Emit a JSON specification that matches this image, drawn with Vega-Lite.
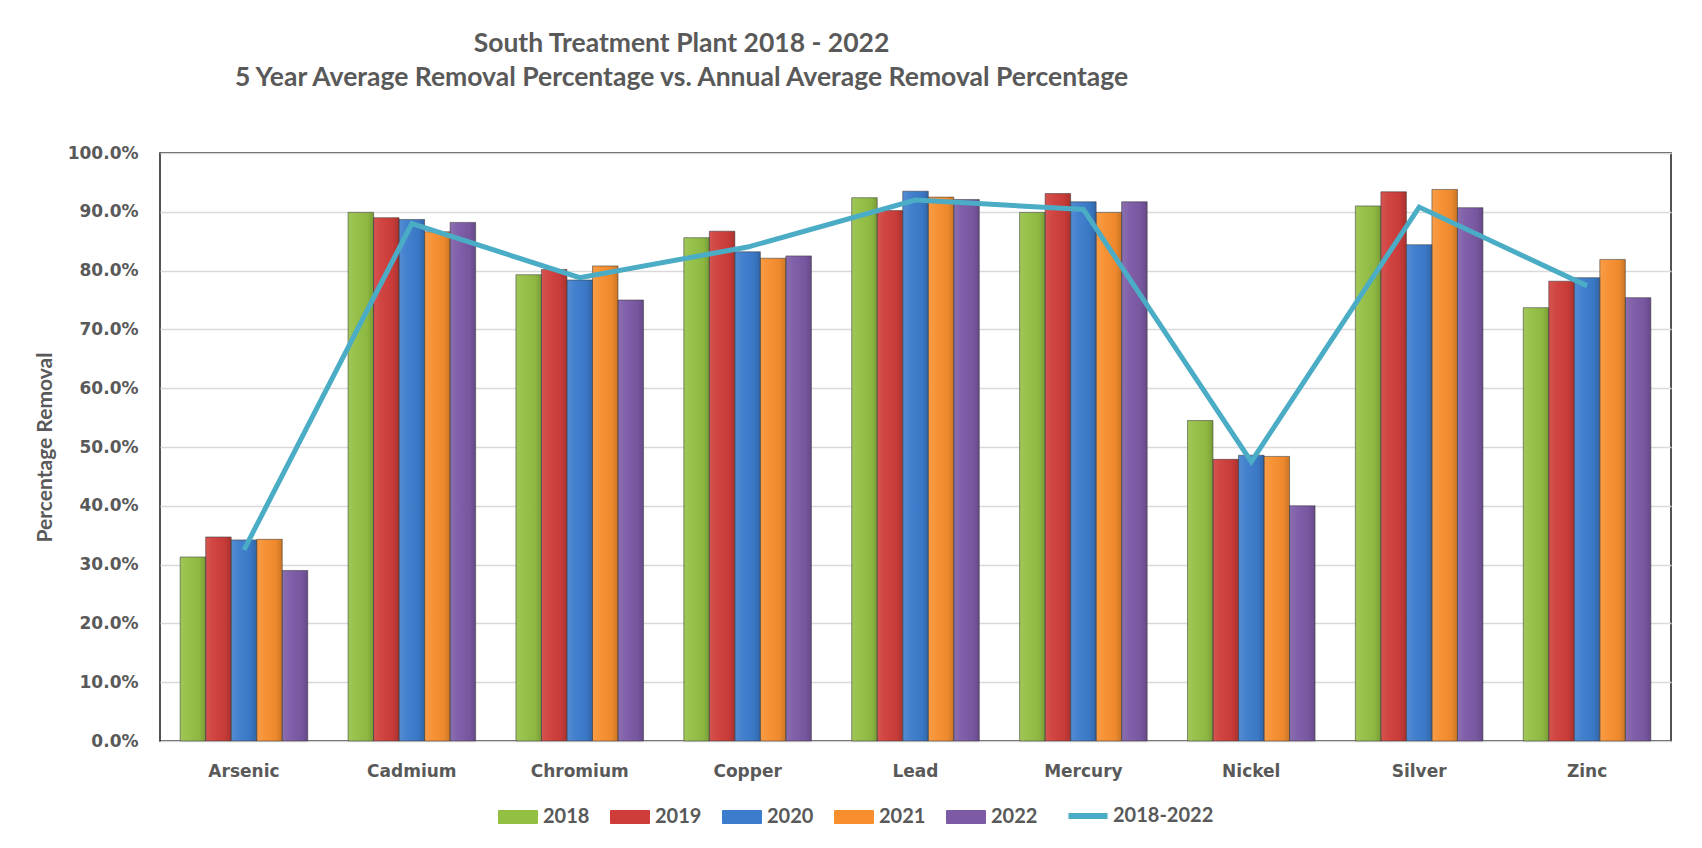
{
  "$schema": "https://vega.github.io/schema/vega-lite/v6.json",
  "autosize": {"type": "none"},
  "width": 1511,
  "height": 588,
  "padding": {"left": 160, "top": 153, "right": 31, "bottom": 107},
  "background": "white",
  "title": {
    "text": ["South Treatment Plant 2018 - 2022", "5 Year Average Removal Percentage vs. Annual Average Removal Percentage"],
    "font": "Lato",
    "fontSize": 26.5,
    "fontWeight": "bold",
    "color": "#595959",
    "anchor": "middle",
    "frame": "group",
    "baseline": "top",
    "lineHeight": 34,
    "offset": 53,
    "dx": -234
  },
  "datasets": {
    "bars": [
      {"metal": "Arsenic", "year": "2018", "value": 0.313},
      {"metal": "Arsenic", "year": "2019", "value": 0.347},
      {"metal": "Arsenic", "year": "2020", "value": 0.342},
      {"metal": "Arsenic", "year": "2021", "value": 0.343},
      {"metal": "Arsenic", "year": "2022", "value": 0.290},
      {"metal": "Cadmium", "year": "2018", "value": 0.899},
      {"metal": "Cadmium", "year": "2019", "value": 0.890},
      {"metal": "Cadmium", "year": "2020", "value": 0.887},
      {"metal": "Cadmium", "year": "2021", "value": 0.866},
      {"metal": "Cadmium", "year": "2022", "value": 0.882},
      {"metal": "Chromium", "year": "2018", "value": 0.793},
      {"metal": "Chromium", "year": "2019", "value": 0.802},
      {"metal": "Chromium", "year": "2020", "value": 0.784},
      {"metal": "Chromium", "year": "2021", "value": 0.808},
      {"metal": "Chromium", "year": "2022", "value": 0.750},
      {"metal": "Copper", "year": "2018", "value": 0.856},
      {"metal": "Copper", "year": "2019", "value": 0.867},
      {"metal": "Copper", "year": "2020", "value": 0.832},
      {"metal": "Copper", "year": "2021", "value": 0.821},
      {"metal": "Copper", "year": "2022", "value": 0.825},
      {"metal": "Lead", "year": "2018", "value": 0.924},
      {"metal": "Lead", "year": "2019", "value": 0.902},
      {"metal": "Lead", "year": "2020", "value": 0.935},
      {"metal": "Lead", "year": "2021", "value": 0.925},
      {"metal": "Lead", "year": "2022", "value": 0.921},
      {"metal": "Mercury", "year": "2018", "value": 0.899},
      {"metal": "Mercury", "year": "2019", "value": 0.931},
      {"metal": "Mercury", "year": "2020", "value": 0.917},
      {"metal": "Mercury", "year": "2021", "value": 0.899},
      {"metal": "Mercury", "year": "2022", "value": 0.917},
      {"metal": "Nickel", "year": "2018", "value": 0.545},
      {"metal": "Nickel", "year": "2019", "value": 0.479},
      {"metal": "Nickel", "year": "2020", "value": 0.486},
      {"metal": "Nickel", "year": "2021", "value": 0.484},
      {"metal": "Nickel", "year": "2022", "value": 0.400},
      {"metal": "Silver", "year": "2018", "value": 0.910},
      {"metal": "Silver", "year": "2019", "value": 0.934},
      {"metal": "Silver", "year": "2020", "value": 0.844},
      {"metal": "Silver", "year": "2021", "value": 0.938},
      {"metal": "Silver", "year": "2022", "value": 0.907},
      {"metal": "Zinc", "year": "2018", "value": 0.737},
      {"metal": "Zinc", "year": "2019", "value": 0.782},
      {"metal": "Zinc", "year": "2020", "value": 0.788},
      {"metal": "Zinc", "year": "2021", "value": 0.819},
      {"metal": "Zinc", "year": "2022", "value": 0.754}
    ],
    "avg": [
      {"metal": "Arsenic", "avg": 0.325},
      {"metal": "Cadmium", "avg": 0.880},
      {"metal": "Chromium", "avg": 0.788},
      {"metal": "Copper", "avg": 0.840},
      {"metal": "Lead", "avg": 0.920},
      {"metal": "Mercury", "avg": 0.904},
      {"metal": "Nickel", "avg": 0.475},
      {"metal": "Silver", "avg": 0.908},
      {"metal": "Zinc", "avg": 0.774}
    ]
  },
  "config": {
    "view": {"stroke": "#1a1a1a", "strokeWidth": 1.5},
    "axis": {
      "labelColor": "#595959",
      "labelFont": "DejaVu Sans",
      "labelFontWeight": "bold",
      "labelFontSize": 17,
      "ticks": false,
      "domain": false
    },
    "legend": {
      "labelFont": "Lato",
      "labelFontSize": 20,
      "labelFontWeight": "bold",
      "labelColor": "#595959"
    }
  },
  "layer": [
    {
      "data": {"name": "bars"},
      "mark": {"type": "bar"},
      "encoding": {
        "x": {
          "field": "metal", "type": "nominal", "sort": null,
          "scale": {"paddingInner": 0.24, "paddingOuter": 0.12},
          "axis": {"title": null, "labelAngle": 0, "labelPadding": 22, "grid": false}
        },
        "xOffset": {
          "field": "year", "type": "nominal",
          "scale": {"domain": ["2018", "2019", "2020", "2021", "2022"], "paddingInner": 0, "paddingOuter": 0}
        },
        "y": {
          "field": "value", "type": "quantitative",
          "scale": {"domain": [0, 1], "nice": false},
          "axis": {
            "values": [0, 0.1, 0.2, 0.3, 0.4, 0.5, 0.6, 0.7, 0.8, 0.9, 1.0],
            "format": ".1%",
            "grid": true,
            "gridColor": "#d9d9d9",
            "gridWidth": 1.5,
            "labelPadding": 22,
            "title": "Percentage Removal",
            "titleFont": "Lato",
            "titleFontSize": 21,
            "titleFontWeight": "bold",
            "titleColor": "#595959",
            "titleX": -115,
            "titleY": 294,
            "titleAngle": -90,
            "titleAlign": "center",
            "titleBaseline": "middle"
          }
        },
        "color": {
          "field": "year", "type": "nominal",
          "scale": {
            "domain": ["2018", "2019", "2020", "2021", "2022", "2018-2022"],
            "range": ["#93bf43", "#cf3d3a", "#3c7ccc", "#f78f2e", "#7c5aa6", "#4bacc6"]
          },
          "legend": {
            "title": null,
            "orient": "none",
            "direction": "horizontal",
            "columns": 6,
            "legendX": 348,
            "legendY": 653,
            "symbolSize": 676,
            "labelOffset": 15,
            "columnPadding": 18,
            "padding": 0,
            "encode": {
              "symbols": {
                "update": {
                  "shape": {"signal": "datum.value === '2018-2022' ? 'M-1.5,0H1.5' : 'M-1.5,-0.5H1.5V0.5H-1.5Z'"},
                  "fill": {"signal": "datum.value === '2018-2022' ? 'transparent' : scale('color', datum.value)"},
                  "stroke": {"signal": "datum.value === '2018-2022' ? scale('color', datum.value) : '#7a7a7a'"},
                  "strokeWidth": {"signal": "datum.value === '2018-2022' ? 6 : 1"},
                  "opacity": {"value": 1},
                  "fillOpacity": {"value": 1}
                }
              }
            }
          }
        }
      }
    },
    {
      "data": {"name": "bars"},
      "mark": {
        "type": "bar",
        "fill": {
          "gradient": "linear", "x1": 0, "x2": 1, "y1": 0, "y2": 0,
          "stops": [
            {"offset": 0, "color": "rgba(255,255,255,0.12)"},
            {"offset": 0.3, "color": "rgba(255,255,255,0.04)"},
            {"offset": 0.75, "color": "rgba(0,0,0,0.04)"},
            {"offset": 1, "color": "rgba(0,0,0,0.18)"}
          ]
        },
        "stroke": "rgba(60,60,60,0.55)",
        "strokeWidth": 1
      },
      "encoding": {
        "x": {"field": "metal", "type": "nominal", "sort": null},
        "xOffset": {"field": "year", "type": "nominal"},
        "y": {"field": "value", "type": "quantitative"}
      }
    },
    {
      "data": {"name": "avg"},
      "mark": {"type": "line", "strokeWidth": 5},
      "encoding": {
        "x": {"field": "metal", "type": "nominal", "sort": null},
        "y": {"field": "avg", "type": "quantitative"},
        "color": {"datum": "2018-2022"}
      }
    }
  ]
}
